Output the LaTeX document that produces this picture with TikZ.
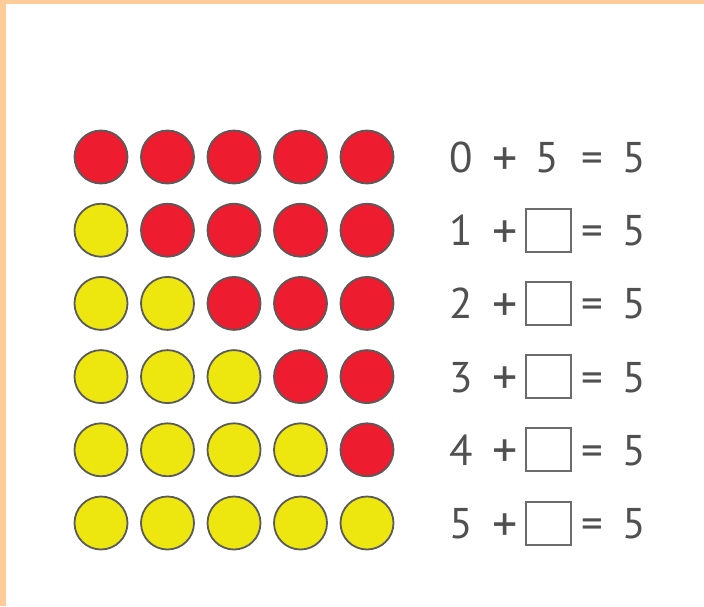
\documentclass[tikz,border=0pt]{standalone}
\usepackage{fontspec}
\setmainfont{PT Sans}
\definecolor{peach}{HTML}{FFCC99}
\definecolor{dotred}{HTML}{ED1C2E}
\definecolor{dotyel}{HTML}{EDE70F}
\definecolor{rim}{HTML}{5A5A5A}
\definecolor{ink}{HTML}{505050}
\tikzset{
  dot/.style={circle,draw=rim,line width=1.8pt,minimum size=53pt,inner sep=0pt},
  reddot/.style={dot,fill=dotred},
  yeldot/.style={dot,fill=dotyel},
  eqtext/.style={inner sep=0pt,anchor=base,text=ink,font=\fontsize{43}{43}\selectfont},
  plustext/.style={inner sep=0pt,anchor=base,text=ink,font=\fontsize{50}{50}\selectfont},
  answerbox/.style={draw=gray!85!black,line width=2pt,minimum width=45pt,minimum height=43pt,inner sep=0pt}
}
\begin{document}
\begin{tikzpicture}[x=1pt,y=-1pt]
\useasboundingbox (0,0) rectangle (704,606);
\fill[white] (0,0) rectangle (704,606);
\fill[peach] (0,0) rectangle (704,4);
\fill[peach] (0,0) rectangle (6,606);
\foreach \r in {0,...,5}{
  \pgfmathsetmacro{\yy}{157+73.2*\r}
  \foreach \c in {0,...,4}{
    \pgfmathsetmacro{\xx}{101+66.5*\c}
    \ifnum\c<\r
      \node[yeldot] (d\r\c) at (\xx,\yy) {};
    \else
      \node[reddot] (d\r\c) at (\xx,\yy) {};
    \fi
  }
  \pgfmathsetmacro{\bb}{\yy+15.5}
  \pgfmathsetmacro{\pb}{\yy+18}
  \node[eqtext] (a\r) at (461,\bb) {\r};
  \node[plustext] (p\r) at (505,\pb) {+};
  \node[eqtext] (e\r) at (592,\bb) {=};
  \node[eqtext] (s\r) at (634,\bb) {5};
}
\node[eqtext] (b0) at (547,172.5) {5};
\foreach \r in {1,...,5}{
  \pgfmathsetmacro{\yy}{157+73.2*\r}
  \node[answerbox] (b\r) at (548.5,\yy) {};
}
\end{tikzpicture}
\end{document}
